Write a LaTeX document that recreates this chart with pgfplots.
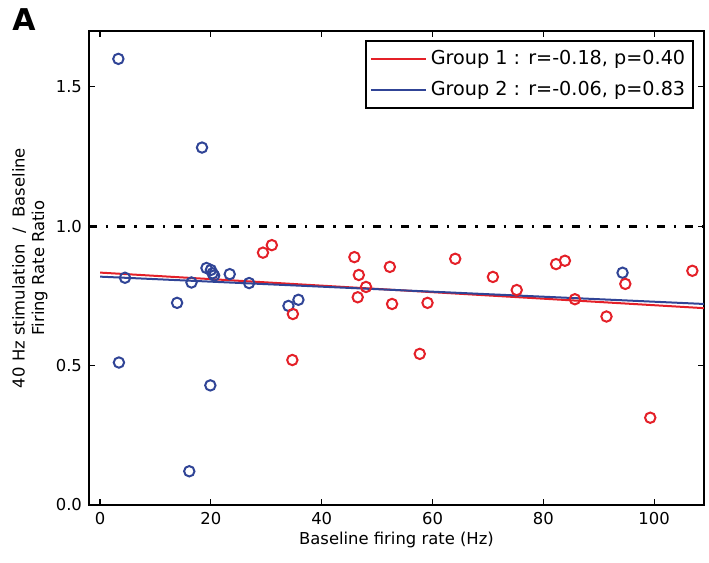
\documentclass[border=0pt]{standalone}
\usepackage{fontspec}
\setmainfont{DejaVu Sans}
\usepackage{pgfplots}
\pgfplotsset{compat=1.18}
\definecolor{gred}{RGB}{228,32,40}
\definecolor{gblue}{RGB}{48,68,150}
\begin{document}
\begin{tikzpicture}
\path[use as bounding box] (-44.5pt,-29pt) rectangle (310pt,252.5pt);
\begin{axis}[
 at={(0,0)}, anchor=south west,
 scale only axis, width=307.5pt, height=237pt,
 xmin=-2, xmax=109, ymin=0, ymax=1.7,
 xtick={0,20,40,60,80,100}, ytick={0,0.5,1,1.5},
 yticklabel style={/pgf/number format/.cd, fixed, fixed zerofill, precision=1},
 /pgf/number format/assume math mode=true,
 tick align=inside, major tick length=3pt,
 tick style={black, line width=0.6pt},
 axis line style={line width=0.9pt},
 ticklabel style={font=\fontsize{8.2}{9.5}\selectfont},
 label style={font=\fontsize{8.2}{9.8}\selectfont},
 xlabel={Baseline firing rate (Hz)},
 xlabel style={at={(axis description cs:0.5,-0.057)}, anchor=north, inner sep=0pt},
 ylabel={40 Hz stimulation\ \ /\ \ Baseline\\Firing Rate Ratio},
 ylabel style={align=center, at={(axis description cs:-0.0667,0.5)}, anchor=south, inner sep=0pt},
 legend style={at={(axis description cs:1,1)}, anchor=north east, xshift=-5pt, yshift=-4.5pt,
   font=\fontsize{9.6}{11.5}\selectfont, draw=black, line width=0.8pt,
   inner xsep=2pt, inner ysep=2.75pt, row sep=2.8pt, nodes={inner sep=2pt}},
 legend cell align=left,
 legend image code/.code={\path (-2.5pt,0pt) -- (25pt,0pt); \draw[line width=1pt] (4.5pt,0pt) -- (19.5pt,0pt);},
]
\addplot[black, line width=1.4pt, dash pattern=on 4pt off 4.5pt on 1.2pt off 4.5pt, forget plot] coordinates {(-2,1) (109,1)};
\addplot[only marks, mark=o, mark size=2.6pt, gblue, mark options={line width=1pt}, forget plot] coordinates {
(3.3,1.600) (18.4,1.282) (4.5,0.815) (13.9,0.725) (16.5,0.798) (19.2,0.850) (20.0,0.843)
(20.3,0.831) (20.6,0.823) (23.4,0.828) (26.9,0.796) (34.0,0.714) (35.8,0.736)
(3.4,0.511) (19.9,0.429) (16.1,0.121) (94.3,0.833)};
\addplot[only marks, mark=o, mark size=2.6pt, gred, mark options={line width=1pt}, forget plot] coordinates {
(29.4,0.905) (31.0,0.932) (34.8,0.685) (34.7,0.520) (45.9,0.889) (46.7,0.825) (48.0,0.782)
(46.5,0.745) (52.3,0.854) (52.7,0.721) (57.7,0.542) (59.1,0.725) (64.1,0.883) (70.9,0.818)
(75.2,0.771) (82.3,0.864) (83.9,0.876) (85.7,0.738) (91.4,0.676) (94.8,0.793) (99.3,0.313)
(106.9,0.840)};
\addplot[gred, line width=1pt] coordinates {(0,0.8335) (109,0.706)};
\addlegendentry{Group 1 : r=-0.18, p=0.40}
\addplot[gblue, line width=1pt] coordinates {(0,0.819) (109,0.721)};
\addlegendentry{Group 2 : r=-0.06, p=0.83}
\end{axis}
\node[anchor=north west, inner sep=0pt, font=\bfseries\fontsize{15}{15}\selectfont] at (-38.5pt,248.5pt) {A};
\end{tikzpicture}
\end{document}
